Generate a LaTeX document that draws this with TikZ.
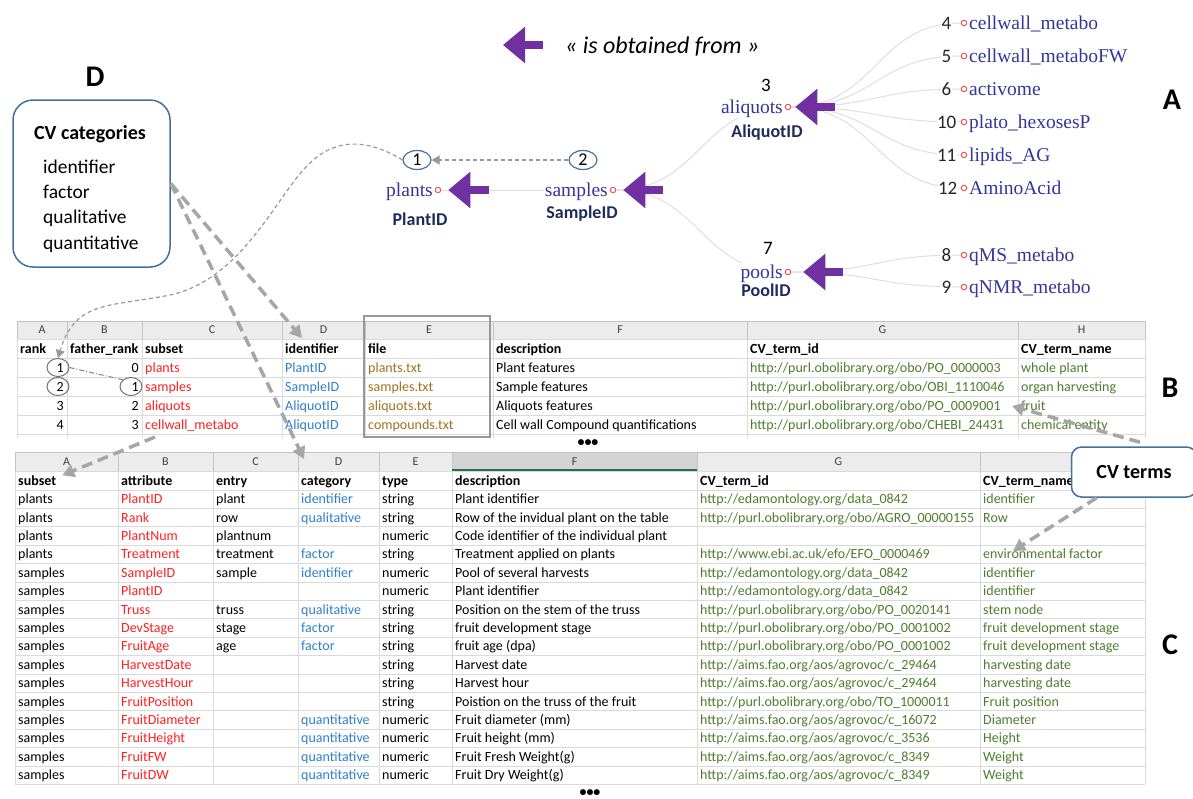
\documentclass[tikz,border=0pt]{standalone}
\usepackage{fontspec}
\setmainfont{Carlito}
\newfontfamily\tserif{Liberation Serif}
\usetikzlibrary{arrows.meta,shapes.geometric}
\pgfdeclarelayer{bg}
\pgfsetlayers{bg,main}
\definecolor{xpurple}{HTML}{7030A0}
\definecolor{xred}{HTML}{FF2020}
\definecolor{xblue}{HTML}{2E80CC}
\definecolor{xgreen}{HTML}{4E7D2E}
\definecolor{xbrown}{HTML}{9C7420}
\definecolor{treetxt}{HTML}{35359A}
\definecolor{idtxt}{HTML}{1F2B5C}
\definecolor{boxblue}{HTML}{41719C}
\definecolor{gridc}{HTML}{DADADA}
\definecolor{hdrfill}{HTML}{ECECEC}
\definecolor{hdrline}{HTML}{C4C4C4}
\definecolor{dgray}{HTML}{A6A6A6}
\definecolor{tedgec}{HTML}{DEDEE8}
\definecolor{xlgreen}{HTML}{217346}
\definecolor{dotred}{HTML}{EE5555}
\tikzset{
 tb/.style={font=\fontsize{14}{16}\selectfont, inner sep=0pt},
 tbh/.style={font=\fontsize{14}{16}\selectfont\bfseries, inner sep=0pt},
 letter/.style={font=\fontsize{12}{14}\selectfont, text=black!75, inner sep=0pt},
 tname/.style={font=\tserif\fontsize{19.5}{22}\selectfont, text=treetxt, inner sep=0pt},
 tnamew/.style={tname, fill=white, inner sep=1pt},
 tdot/.style={circle, draw=dotred, line width=1pt, minimum size=5.5pt, inner sep=0pt, fill=white},
 tnum/.style={font=\fontsize{19}{22}\selectfont, text=black!85, inner sep=0.5pt, fill=white},
 tid/.style={font=\fontsize{18}{20}\selectfont\bfseries, text=idtxt, inner sep=0pt},
 tedge/.style={draw=tedgec, line width=1pt},
 parr/.style={draw=xpurple, line width=8pt, -{Triangle[length=22pt,width=35pt]}},
 circ/.style={ellipse, draw=boxblue, line width=1.2pt, minimum width=28pt, minimum height=19pt, inner sep=0pt, font=\fontsize{18}{20}\selectfont},
 tcirc/.style={ellipse, draw=black!55, line width=1pt, minimum width=22pt, minimum height=18pt, inner sep=0pt},
 thind/.style={draw=black!40, line width=1.2pt, dash pattern=on 4pt off 3pt, -{Triangle[length=8pt,width=9pt]}},
 bigd/.style={draw=dgray, line width=3.5pt, dash pattern=on 11pt off 6pt, -{Triangle[length=12pt,width=13pt]}},
 biglabel/.style={font=\fontsize{30}{32}\selectfont\bfseries, inner sep=0pt},
}
\newcommand\brow[9]{%
 \pgfmathsetmacro\ry{353+19*#1}%
 \node[tb,anchor=base east] (b#1a) at (64,\ry) {#2};
 \node[tb,anchor=base east] (b#1b) at (139,\ry) {#3};
 \node[tb,anchor=base west,text=xred] (b#1c) at (145,\ry) {#4};
 \node[tb,anchor=base west,text=xblue] (b#1d) at (285,\ry) {#5};
 \node[tb,anchor=base west,text=xbrown] (b#1e) at (368,\ry) {#6};
 \node[tb,anchor=base west] (b#1f) at (496,\ry) {#7};
 \node[tb,anchor=base west,text=xgreen] (b#1g) at (750,\ry) {#8};
 \node[tb,anchor=base west,text=xgreen] (b#1h) at (1021,\ry) {#9};
}
\newcommand\crow[9]{%
 \pgfmathsetmacro\ry{485.3+18.4*#1}%
 \node[tb,anchor=base west] (c#1a) at (18,\ry) {#2};
 \node[tb,anchor=base west,text=xred] (c#1b) at (121,\ry) {#3};
 \node[tb,anchor=base west] (c#1c) at (216,\ry) {#4};
 \node[tb,anchor=base west,text=xblue] (c#1d) at (301,\ry) {#5};
 \node[tb,anchor=base west] (c#1e) at (382,\ry) {#6};
 \node[tb,anchor=base west] (c#1f) at (455,\ry) {#7};
 \node[tb,anchor=base west,text=xgreen] (c#1g) at (700,\ry) {#8};
 \node[tb,anchor=base west,text=xgreen] (c#1h) at (983,\ry) {#9};
}
\begin{document}
\begin{tikzpicture}[x=1pt,y=-1pt]
\useasboundingbox (0,0) rectangle (1193,798);
\begin{pgfonlayer}{bg}
\fill[white] (0,0) rectangle (1193,798);
\end{pgfonlayer}

% ================= table B
\fill[hdrfill] (17,321) rectangle (1145,339);
\foreach \x in {17,67,142,282,365,493,747,1018,1145}{
  \draw[hdrline, line width=0.8pt] (\x,321) -- (\x,339);
  \draw[gridc, line width=0.8pt] (\x,339) -- (\x,438);}
\foreach \y in {339,358,377,396,415,434} \draw[gridc, line width=0.8pt] (17,\y) -- (1145,\y);
\draw[hdrline, line width=0.8pt] (17,321) -- (1145,321);
\foreach \l/\x in {A/42,B/104.5,C/212,D/323.5,E/429,F/620,G/882.5,H/1081.5}
  \node[letter] (bl\l) at (\x,330) {\l};
\node[tbh,anchor=base west] (b0a) at (20,353) {rank};
\node[tbh,anchor=base west] (b0b) at (70,353) {father\_rank};
\node[tbh,anchor=base west] (b0c) at (145,353) {subset};
\node[tbh,anchor=base west] (b0d) at (285,353) {identifier};
\node[tbh,anchor=base west] (b0e) at (368,353) {file};
\node[tbh,anchor=base west] (b0f) at (496,353) {description};
\node[tbh,anchor=base west] (b0g) at (750,353) {CV\_term\_id};
\node[tbh,anchor=base west] (b0h) at (1021,353) {CV\_term\_name};
\brow{1}{1}{0}{plants}{PlantID}{plants.txt}{Plant features}{http://purl.obolibrary.org/obo/PO\_0000003}{whole plant}
\brow{2}{2}{1}{samples}{SampleID}{samples.txt}{Sample features}{http://purl.obolibrary.org/obo/OBI\_1110046}{organ harvesting}
\brow{3}{3}{2}{aliquots}{AliquotID}{aliquots.txt}{Aliquots features}{http://purl.obolibrary.org/obo/PO\_0009001}{fruit}
\brow{4}{4}{3}{cellwall\_metabo}{AliquotID}{compounds.txt}{Cell wall Compound quantifications}{http://purl.obolibrary.org/obo/CHEBI\_24431}{chemical entity}
\draw[draw=black!40, line width=2.5pt] (364,316) rectangle (490,437);
\node[tcirc] (bc1) at (58,367.5) {};
\node[tcirc] (bc2) at (58,386.5) {};
\node[tcirc] (bf1) at (131,386.5) {};
\draw[draw=black!50, line width=1pt, dash pattern=on 5pt off 2pt on 1pt off 2pt] (bc1.east) -- (bf1.north west);
\node[font=\fontsize{14}{16}\selectfont\bfseries, inner sep=0pt] (bdots) at (588,443) {•••};

% ================= table C
\fill[hdrfill] (15,452) rectangle (1145,471);
\fill[black!17] (452,452) rectangle (697,471);
\foreach \x in {15,118,213,298,379,452,697,980,1145}{
  \draw[hdrline, line width=0.8pt] (\x,452) -- (\x,471);
  \draw[gridc, line width=0.8pt] (\x,471) -- (\x,784.4);}
\foreach \k in {0,...,16} \draw[gridc, line width=0.8pt] (15,490+18.4*\k) -- (1145,490+18.4*\k);
\draw[gridc, line width=0.8pt] (15,471) -- (1145,471);
\draw[hdrline, line width=0.8pt] (15,452) -- (1145,452);
\draw[xlgreen, line width=2pt] (452,470) -- (697,470);
\foreach \l/\x in {A/66.5,B/165.5,C/255.5,D/338.5,E/415.5,F/574.5,G/838.5}
  \node[letter] (cl\l) at (\x,461.5) {\l};
\node[tbh,anchor=base west] (c0a) at (18,485.3) {subset};
\node[tbh,anchor=base west] (c0b) at (121,485.3) {attribute};
\node[tbh,anchor=base west] (c0c) at (216,485.3) {entry};
\node[tbh,anchor=base west] (c0d) at (301,485.3) {category};
\node[tbh,anchor=base west] (c0e) at (382,485.3) {type};
\node[tbh,anchor=base west] (c0f) at (455,485.3) {description};
\node[tbh,anchor=base west] (c0g) at (700,485.3) {CV\_term\_id};
\node[tbh,anchor=base west] (c0h) at (983,485.3) {CV\_term\_name};
\crow{1}{plants}{PlantID}{plant}{identifier}{string}{Plant identifier}{http://edamontology.org/data\_0842}{identifier}
\crow{2}{plants}{Rank}{row}{qualitative}{string}{Row of the invidual plant on the table}{http://purl.obolibrary.org/obo/AGRO\_00000155}{Row}
\crow{3}{plants}{PlantNum}{plantnum}{}{numeric}{Code identifier of the individual plant}{}{}
\crow{4}{plants}{Treatment}{treatment}{factor}{string}{Treatment applied on plants}{http://www.ebi.ac.uk/efo/EFO\_0000469}{environmental factor}
\crow{5}{samples}{SampleID}{sample}{identifier}{numeric}{Pool of several harvests}{http://edamontology.org/data\_0842}{identifier}
\crow{6}{samples}{PlantID}{}{}{numeric}{Plant identifier}{http://edamontology.org/data\_0842}{identifier}
\crow{7}{samples}{Truss}{truss}{qualitative}{string}{Position on the stem of the truss}{http://purl.obolibrary.org/obo/PO\_0020141}{stem node}
\crow{8}{samples}{DevStage}{stage}{factor}{string}{fruit development stage}{http://purl.obolibrary.org/obo/PO\_0001002}{fruit development stage}
\crow{9}{samples}{FruitAge}{age}{factor}{string}{fruit age (dpa)}{http://purl.obolibrary.org/obo/PO\_0001002}{fruit development stage}
\crow{10}{samples}{HarvestDate}{}{}{string}{Harvest date}{http://aims.fao.org/aos/agrovoc/c\_29464}{harvesting date}
\crow{11}{samples}{HarvestHour}{}{}{string}{Harvest hour}{http://aims.fao.org/aos/agrovoc/c\_29464}{harvesting date}
\crow{12}{samples}{FruitPosition}{}{}{string}{Poistion on the truss of the fruit}{http://purl.obolibrary.org/obo/TO\_1000011}{Fruit position}
\crow{13}{samples}{FruitDiameter}{}{quantitative}{numeric}{Fruit diameter (mm)}{http://aims.fao.org/aos/agrovoc/c\_16072}{Diameter}
\crow{14}{samples}{FruitHeight}{}{quantitative}{numeric}{Fruit height (mm)}{http://aims.fao.org/aos/agrovoc/c\_3536}{Height}
\crow{15}{samples}{FruitFW}{}{quantitative}{numeric}{Fruit Fresh Weight(g)}{http://aims.fao.org/aos/agrovoc/c\_8349}{Weight}
\crow{16}{samples}{FruitDW}{}{quantitative}{numeric}{Fruit Dry Weight(g)}{http://aims.fao.org/aos/agrovoc/c\_8349}{Weight}
\node[font=\fontsize{14}{16}\selectfont\bfseries, inner sep=0pt] (cdots) at (590,793) {•••};

% ================= tree (A)
\node[tdot] (dPl) at (438,190) {};
\node[tdot] (dSa) at (613,190) {};
\node[tdot] (dAl) at (788,107) {};
\node[tdot] (dPo) at (788,272) {};
\begin{pgfonlayer}{bg}
\draw[tedge] (dPl) -- (dSa);
\draw[tedge] (dSa) .. controls (700,190) and (700,107) .. (dAl);
\draw[tedge] (dSa) .. controls (700,190) and (700,272) .. (dPo);
\end{pgfonlayer}
\foreach \n/\xn/\nm/\yb in {4/952/cellwall\_metabo/29, 5/952/cellwall\_metaboFW/62, 6/952/activome/95, 10/957/plato\_hexosesP/128, 11/957/lipids\_AG/161, 12/958/AminoAcid/194}{
  \node[tdot] (d\n) at (964,\yb-6) {};
  \begin{pgfonlayer}{bg}
  \draw[tedge] (dAl) .. controls (876,107) and (876,\yb-6) .. (d\n);
  \end{pgfonlayer}
  \node[tnum, anchor=base east] (n\n) at (\xn,\yb) {\n};
  \node[tname, anchor=base west] (l\n) at (969,\yb) {\nm};
}
\foreach \n/\nm/\yb in {8/qMS\_metabo/261, 9/qNMR\_metabo/293}{
  \node[tdot] (d\n) at (964,\yb-6) {};
  \begin{pgfonlayer}{bg}
  \draw[tedge] (dPo) .. controls (876,272) and (876,\yb-6) .. (d\n);
  \end{pgfonlayer}
  \node[tnum, anchor=base east] (n\n) at (952,\yb) {\n};
  \node[tname, anchor=base west] (l\n) at (969,\yb) {\nm};
}
\node[tnamew, anchor=base east] (plants) at (434,196) {plants};
\node[tnamew, anchor=base east] (samples) at (609,196) {samples};
\node[tnamew, anchor=base east] (aliquots) at (784,113) {aliquots};
\node[tnamew, anchor=base east] (pools) at (784,278) {pools};
\node[tid, anchor=base] (idPl) at (420,225) {PlantID};
\node[tid, anchor=base] (idSa) at (582,218) {SampleID};
\node[tid, anchor=base] (idAl) at (767,137) {AliquotID};
\node[tid, anchor=base] (idPo) at (766,296) {PoolID};
\node[font=\fontsize{19}{22}\selectfont, inner sep=0pt] (r3) at (766,85) {3};
\node[font=\fontsize{19}{22}\selectfont, inner sep=0pt] (r7) at (768,248) {7};
\coordinate (tPl) at (489,190);
\coordinate (tSa) at (663,190);
\coordinate (tAl) at (835,107);
\coordinate (tPo) at (843,272);
\draw[parr] (tPl) -- ([xshift=7pt]dPl.east);
\draw[parr] (tSa) -- ([xshift=7pt]dSa.east);
\draw[parr] (tAl) -- ([xshift=4pt]dAl.east);
\draw[parr] (tPo) -- ([xshift=12pt]dPo.east);
\node[circ] (e1) at (417,160) {1};
\node[circ] (e2) at (583,160) {2};
\draw[thind] (e2) -- (e1);

% legend
\coordinate (lgT) at (543,45);
\coordinate (lgH) at (503,45);
\draw[parr] (lgT) -- (lgH);
\node[font=\fontsize{24}{26}\selectfont\itshape, anchor=west, inner sep=0pt] (legend) at (565,47) {« is obtained from »};

% labels
\node[biglabel, anchor=base] (labA) at (1172,109) {A};
\node[biglabel] (labB) at (1170,388) {B};
\node[biglabel] (labC) at (1170,645) {C};
\node[biglabel, anchor=base] (labD) at (95,86) {D};

% CV categories box
\node[draw=boxblue, line width=1.5pt, rounded corners=20pt, minimum width=157pt, minimum height=167pt, fill=white] (cvcat) at (91.5,183.5) {};
\node[font=\fontsize{20}{22}\selectfont\bfseries, anchor=base, inner sep=0pt] (cvt) at (90,139) {CV categories};
\node[font=\fontsize{19.5}{22}\selectfont, anchor=base west, inner sep=0pt] (cv1) at (43,173) {identifier};
\node[font=\fontsize{19.5}{22}\selectfont, anchor=base west, inner sep=0pt] (cv2) at (43,198) {factor};
\node[font=\fontsize{19.5}{22}\selectfont, anchor=base west, inner sep=0pt] (cv3) at (43,223) {qualitative};
\node[font=\fontsize{19.5}{22}\selectfont, anchor=base west, inner sep=0pt] (cv4) at (43,249) {quantitative};

% CV terms box
\node[draw=boxblue, line width=1.5pt, rounded corners=10pt, fill=white, minimum width=125pt, minimum height=50pt, font=\fontsize{20}{22}\selectfont\bfseries] (cvterms) at (1134,472) {CV terms};

% thin dashed curve from tree rank 1 to table rank 1
\draw[thind] (e1.west) .. controls (370,140) and (335,135) .. (305,168) .. controls (275,200) and (240,280) .. (170,295) .. controls (110,307) and (75,300) .. (bc1.north);

% thick dashed arrows
\coordinate (tIdent) at (302,338);
\coordinate (tCat) at (304,459);
\coordinate (sSub) at (155,437);
\coordinate (tFruit) at (1012,406);
\coordinate (tEnv) at (1013,551);
\draw[bigd] (cvcat.east) -- (tIdent);
\draw[bigd] (cvcat.east) -- (tCat);
\draw[bigd] (sSub) -- ([xshift=6pt]c0a.north east);
\draw[bigd] ([xshift=6pt,yshift=4pt]cvterms.north) -- (tFruit);
\draw[bigd] ([xshift=26pt]cvterms.south west) -- (tEnv);
\end{tikzpicture}
\end{document}
